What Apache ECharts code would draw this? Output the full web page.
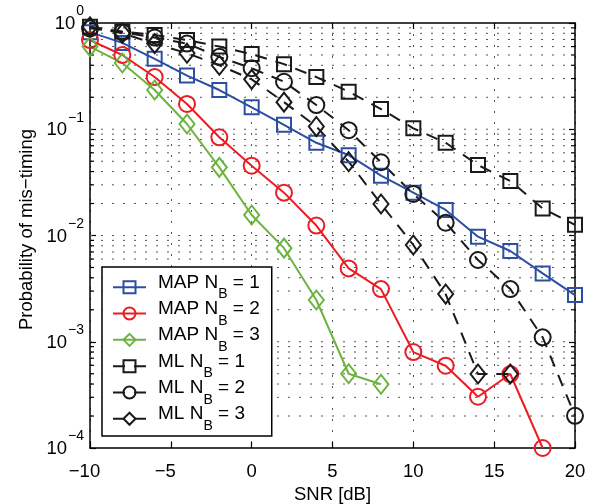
<!DOCTYPE html>
<html><head><meta charset="utf-8">
<script src="https://cdn.jsdelivr.net/npm/echarts@6/dist/echarts.min.js"></script>
<style>html,body{margin:0;padding:0;background:#fff}#c{width:601px;height:504px}</style>
</head><body><div id="c"></div>
<script>
// SNR values (dB)
const snr = [-10,-8,-6,-4,-2,0,2,4,6,8,10,12,14,16,18,20];
// Probability of mis-timing per series
const mapNB1 = [0.82,0.65,0.46,0.32,0.234,0.161,0.11,0.0746,0.057,0.0366,0.0253,0.0174,0.00975,0.00715,0.0044,0.00275];
const mapNB2 = [0.69,0.5,0.31,0.173,0.084,0.0454,0.0253,0.0124,0.0049,0.00313,0.0008,0.000595,0.000304,0.000497,0.0001];
const mapNB3 = [0.6,0.42,0.234,0.112,0.0438,0.0156,0.0076,0.00247,0.0005,0.000398];
const mlNB1 = [0.92,0.83,0.77,0.69,0.6,0.51,0.41,0.31,0.226,0.155,0.102,0.0747,0.046,0.0326,0.018,0.0126];
const mlNB2 = [0.89,0.82,0.73,0.64,0.48,0.375,0.28,0.169,0.098,0.0489,0.0246,0.0132,0.00588,0.00313,0.0011,0.000201];
const mlNB3 = [0.92,0.8,0.64,0.52,0.40,0.295,0.18,0.106,0.0495,0.0198,0.00814,0.00281,0.000497,0.000497];
// axis ticks
const xTicks = [-10,-5,0,5,10,15,20];
const yDecades = [1e-4,1e-3,1e-2,1e-1,1];
const yMinor = [2e-4,3e-4,4e-4,5e-4,6e-4,7e-4,8e-4,9e-4,
                2e-3,3e-3,4e-3,5e-3,6e-3,7e-3,8e-3,9e-3,
                2e-2,3e-2,4e-2,5e-2,6e-2,7e-2,8e-2,9e-2,
                2e-1,3e-1,4e-1,5e-1,6e-1,7e-1,8e-1,9e-1];
const seriesNames = ['MAP 1','MAP 2','MAP 3','ML 1','ML 2','ML 3'];

const FONT = '"Liberation Sans", Arial, Helvetica, sans-serif';
const MINUS = '\u2212';

function pairs(vals){ return vals.map((v,i)=>[snr[i], v]); }
function mk(name, vals, color, symbol, size, dashed){
  return {
    name, type:'line', data: pairs(vals),
    symbol, symbolSize: size, showAllSymbol:true,
    lineStyle:{color, width:2, type: dashed ? [12,9] : 'solid'},
    itemStyle:{color:'rgba(0,0,0,0)', borderColor:color, borderWidth:2},
    emphasis:{disabled:true}, z:3
  };
}
const BLUE='#2c4ea3', RED='#ec1c24', GREEN='#6cb43f', BLACK='#1a1a1a';

const gridData = yDecades.slice(1,4).map(v=>[-10,v,0]).concat(yMinor.map(v=>[-10,v,1]));

const axisLineStyle = {onZero:false, lineStyle:{color:'#000', width:1.5}};
const tickStyle = {inside:true, length:6, lineStyle:{color:'#000', width:1.2}};

const chart = echarts.init(document.getElementById('c'), null, {renderer:'canvas'});
chart.setOption({
  animation:false,
  backgroundColor:'#fff',
  grid:{left:90, right:26, top:23, bottom:56, containLabel:false, outerBoundsMode:'none'},
  xAxis:[{
    type:'value', min:-10, max:20, interval:5, position:'bottom',
    axisLine:axisLineStyle, axisTick:tickStyle,
    axisLabel:{
      color:'#000', fontSize:18.5, fontFamily:FONT, margin:14,
      formatter: v => v < 0 ? '{n|' + MINUS + Math.abs(v) + '}' : '{p|' + v + '}',
      rich:{
        n:{fontSize:18.5, fontFamily:FONT, color:'#000', padding:[0,11,0,0]},
        p:{fontSize:18.5, fontFamily:FONT, color:'#000'}
      }
    },
    splitLine:{show:true, lineStyle:{color:'#555', width:1, type:[2,9]}},
    name:'SNR [dB]', nameLocation:'middle', nameGap:24,
    nameTextStyle:{color:'#000', fontSize:18.5, fontFamily:FONT}
  },{
    type:'value', min:-10, max:20, interval:5, position:'top',
    axisLine:axisLineStyle, axisTick:tickStyle,
    axisLabel:{show:false}, splitLine:{show:false}
  }],
  yAxis:[{
    type:'log', logBase:10, min:1e-4, max:1, position:'left',
    axisLine:axisLineStyle, axisTick:tickStyle,
    splitLine:{show:false}, minorTick:{show:false},
    axisLabel:{
      color:'#000', fontFamily:FONT, margin:6,
      formatter: v => {
        const e = Math.round(Math.log10(v));
        return '{b|10}{e|' + (e < 0 ? MINUS + (-e) : e) + '}';
      },
      rich:{
        b:{fontSize:18.5, lineHeight:20, padding:[9,0,7,0], fontFamily:FONT, color:'#000'},
        e:{fontSize:14, lineHeight:14, padding:[0,0,23,1], fontFamily:FONT, color:'#000'}
      }
    },
    name:'Probability of mis\u2212timing', nameLocation:'middle', nameGap:54,
    nameMoveOverlap:false,
    nameTextStyle:{color:'#000', fontSize:18.5, fontFamily:FONT, padding:[0,0,0,12]}
  },{
    type:'log', logBase:10, min:1e-4, max:1, position:'right',
    axisLine:axisLineStyle, axisTick:tickStyle,
    axisLabel:{show:false}, splitLine:{show:false}
  }],
  legend:{
    orient:'vertical', left:102, top:267,
    data: seriesNames,
    backgroundColor:'#fff', borderColor:'#000', borderWidth:1.5,
    padding:[6,12,3,10], itemGap:-2.2, itemWidth:33, itemHeight:15,
    selectedMode:false,
    textStyle:{
      color:'#000', fontFamily:FONT,
      rich:{
        a0:{fontSize:19, lineHeight:21, padding:[0,0,9.5,7], fontFamily:FONT, color:'#000'},
        a:{fontSize:19, lineHeight:21, padding:[0,0,9.5,0], fontFamily:FONT, color:'#000'},
        s:{fontSize:14, lineHeight:14, padding:[14.5,0,0,0], fontFamily:FONT, color:'#000'}
      }
    },
    formatter: name => {
      const p = name.split(' ');
      return '{a0|' + p[0] + ' N}{s|B}{a| = ' + p[1] + '}';
    }
  },
  series:[
    {
      type:'custom', name:'grid', silent:true, z:1, xAxisIndex:0, yAxisIndex:0,
      encode:{x:0, y:1},
      data: gridData,
      renderItem:(params, api)=>{
        const v = api.value(1), minor = api.value(2);
        const l = api.coord([-10, v]), r = api.coord([20, v]);
        const ch = [{type:'line', shape:{x1:l[0], y1:l[1], x2:r[0], y2:r[1]},
                     style:{stroke:'#555', lineWidth:1, lineDash:[2,9]}}];
        if (minor) {
          ch.push({type:'line', shape:{x1:l[0], y1:l[1], x2:l[0]+4, y2:l[1]}, style:{stroke:'#000', lineWidth:1.2}});
          ch.push({type:'line', shape:{x1:r[0]-4, y1:r[1], x2:r[0], y2:r[1]}, style:{stroke:'#000', lineWidth:1.2}});
        }
        return {type:'group', children:ch};
      }
    },
    mk('MAP 1', mapNB1, BLUE, 'rect', 14, false),
    mk('MAP 2', mapNB2, RED, 'circle', 16, false),
    mk('MAP 3', mapNB3, GREEN, 'diamond', [15,19], false),
    mk('ML 1', mlNB1, BLACK, 'rect', 14, true),
    mk('ML 2', mlNB2, BLACK, 'circle', 16, true),
    mk('ML 3', mlNB3, BLACK, 'diamond', [15,19], true)
  ]
});
</script></body></html>
